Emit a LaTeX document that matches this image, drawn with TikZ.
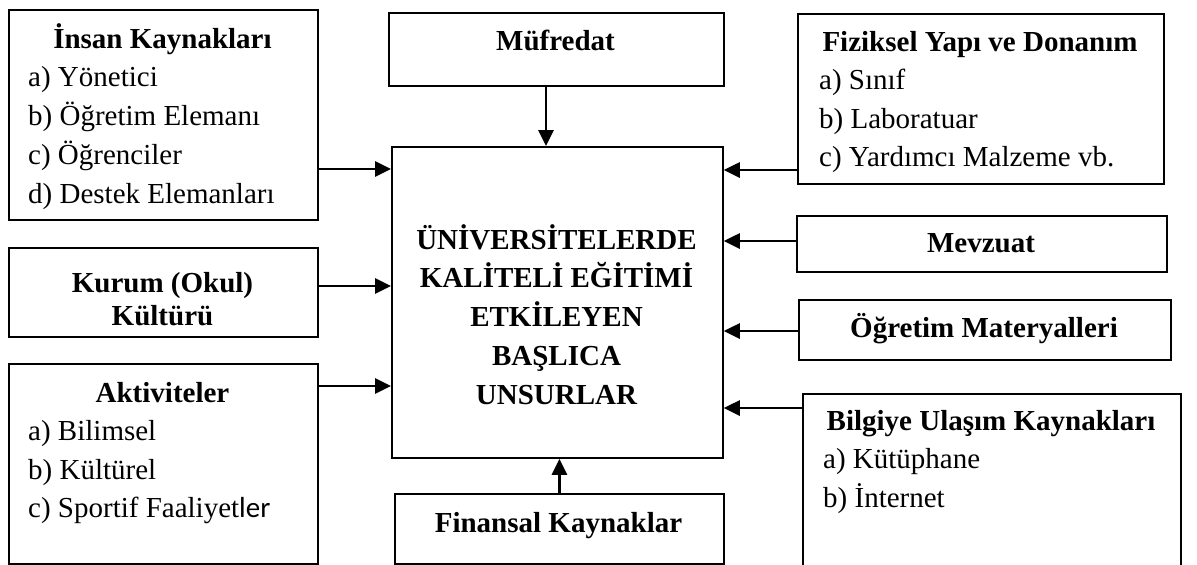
\documentclass[tikz,border=0pt]{standalone}
\usepackage{fontspec}
\setmainfont{Liberation Serif}
\newfontfamily\calfont{Carlito}
\usetikzlibrary{arrows.meta}
\newcommand\boxfont{\fontsize{29}{38.5}\selectfont}

\begin{document}
\begin{tikzpicture}[x=1pt, y=-1pt,
    box/.style={draw, line width=1.8pt, inner sep=0pt, anchor=north west},
    head/.style={font=\boxfont\bfseries, anchor=base, inner sep=0pt},
    item/.style={font=\boxfont, anchor=base west, inner sep=0pt},
    arr/.style={line width=2.8pt, -{Triangle[length=16pt,width=15pt]}}]
    \useasboundingbox (0,0) rectangle (1197,565);
    \clip (0,0) rectangle (1197,565);

    % Centre box (base = last line)
    \node[box, minimum width=331pt, minimum height=311pt] (cen) at (391,146) {};
    \node[head, align=center, font=\fontsize{29}{38.7}\selectfont\bfseries] (cenT) at (556.5,404)
        {ÜNİVERSİTELERDE\\KALİTELİ EĞİTİMİ\\ETKİLEYEN\\BAŞLICA\\UNSURLAR};

    % Top and bottom
    \node[box, minimum width=335pt, minimum height=73pt] (muf) at (388,12) {};
    \node[head] (mufT) at (555.5,50.5) {Müfredat};
    \node[box, minimum width=329pt, minimum height=70pt] (fin) at (394,493) {};
    \node[head] (finT) at (558.5,532.5) {Finansal Kaynaklar};

    % Left column
    \node[box, minimum width=309pt, minimum height=210pt] (insan) at (8,9) {};
    \node[head] (insanT) at (162.5,48) {İnsan Kaynakları};
    \foreach \t [count=\i] in {a) Yönetici, b) Öğretim Elemanı, c) Öğrenciler, d) Destek Elemanları}
        \node[item] (insan\i) at (28,{48+38.75*\i}) {\t};

    \node[box, minimum width=309pt, minimum height=89pt] (kurum) at (8,247) {};
    \node[head, align=center, font=\fontsize{29}{33}\selectfont\bfseries] (kurumT) at (162.5,325)
        {Kurum (Okul)\\Kültürü};

    \node[box, minimum width=309pt, minimum height=200pt] (aktiv) at (8,363) {};
    \node[head] (aktivT) at (162.5,402) {Aktiviteler};
    \foreach \t [count=\i] in {a) Bilimsel, b) Kültürel, c) Sportif Faaliyet{\calfont ler}}
        \node[item] (aktiv\i) at (28,{402+38.5*\i}) {\t};

    % Right column
    \node[box, minimum width=366pt, minimum height=170pt] (fiz) at (797,13) {};
    \node[head] (fizT) at (980,51) {Fiziksel Yapı ve Donanım};
    \foreach \t [count=\i] in {a) Sınıf, b) Laboratuar, c) Yardımcı Malzeme vb.}
        \node[item] (fiz\i) at (819,{51+38.5*\i}) {\t};

    \node[box, minimum width=370pt, minimum height=56pt] (mev) at (796,215) {};
    \node[head] (mevT) at (981,252) {Mevzuat};

    \node[box, minimum width=372pt, minimum height=60pt] (ogr) at (798,299) {};
    \node[head] (ogrT) at (984,337) {Öğretim Materyalleri};

    \node[box, minimum width=378pt, minimum height=190pt] (bil) at (802,393) {};
    \node[head] (bilT) at (991,430) {Bilgiye Ulaşım Kaynakları};
    \foreach \t [count=\i] in {a) Kütüphane, b) İnternet}
        \node[item] (bil\i) at (823,{430+38.5*\i}) {\t};

    % Arrows into the centre
    \draw[arr] (muf.south -| 546,0) -- (cen.north -| 546,0);
    \draw[arr] (fin.north) -- (fin.north |- cen.south);
    \draw[arr] (insan.east |- 0,169) -- (cen.west |- 0,169);
    \draw[arr] (kurum.east |- 0,286) -- (cen.west |- 0,286);
    \draw[arr] (aktiv.east |- 0,386) -- (cen.west |- 0,386);
    \draw[arr] (fiz.west |- 0,170) -- (cen.east |- 0,170);
    \draw[arr] (mev.west |- 0,241) -- (cen.east |- 0,241);
    \draw[arr] (ogr.west |- 0,331) -- (cen.east |- 0,331);
    \draw[arr] (bil.west |- 0,408) -- (cen.east |- 0,408);
\end{tikzpicture}
\end{document}
